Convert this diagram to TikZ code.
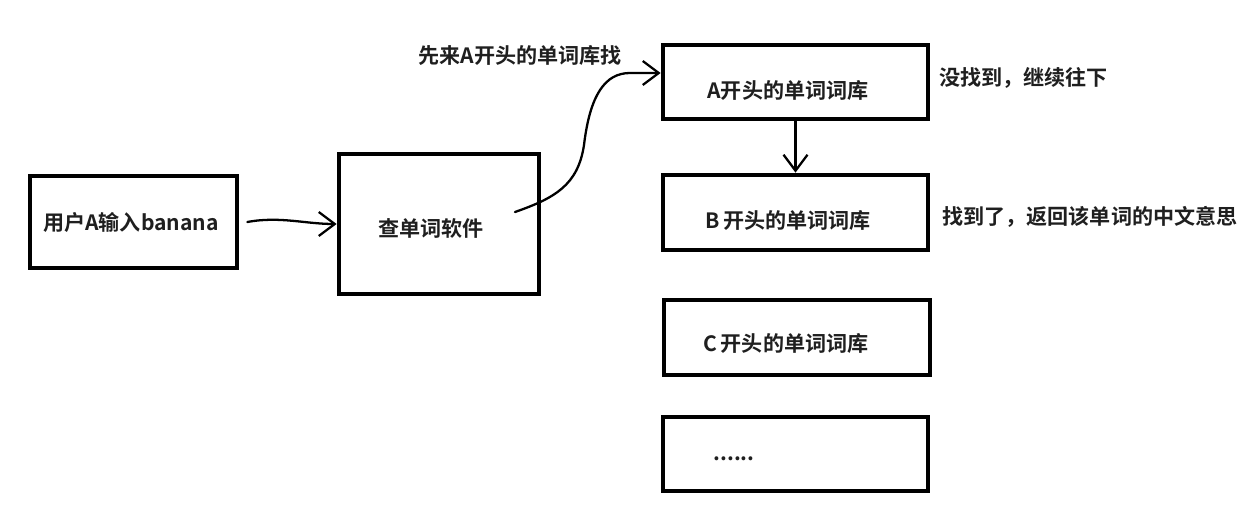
\documentclass[tikz,border=0pt]{standalone}
\usepackage{fontspec}
\setmainfont{Noto Sans CJK SC}[BoldFont={Noto Sans CJK SC Bold}]
\usetikzlibrary{arrows.meta}

\begin{document}
\begin{tikzpicture}[x=0.02cm, y=-0.02cm,
  box/.style={draw, line width=2.7pt, inner sep=0pt},
  lbl/.style={font=\fontsize{12}{14}\selectfont\bfseries, text=black!88, inner sep=0pt},
  hand/.style={line width=1.3pt, line cap=round, line join=round,
    -{Straight Barb[length=3.2mm, width=4.8mm, line width=1.3pt]}}]

\useasboundingbox (0,0) rectangle (1252,510);

% ── Boxes ──
\node[box, minimum width=4.14cm, minimum height=1.84cm] (user) at (133.5, 222) {};
\node[box, minimum width=4.0cm, minimum height=2.8cm] (sw) at (439, 224) {};
\node[box, minimum width=5.3cm, minimum height=1.48cm] (dicta) at (795.5, 82) {};
\node[box, minimum width=5.3cm, minimum height=1.5cm] (dictb) at (795.5, 212.5) {};
\node[box, minimum width=5.32cm, minimum height=1.5cm] (dictc) at (797, 337.5) {};
\node[box, minimum width=5.3cm, minimum height=1.48cm] (dictx) at (795.5, 454) {};

% ── Box texts ──
\node[lbl] (tuser) at (131, 222) {用户A输入banana};
\node[lbl] (tsw) at (431, 228) {查单词软件};
\node[lbl] (ta) at (788, 90) {A开头的单词词库};
\node[lbl] (tb) at (788, 220) {B\,开头的单词词库};
\node[lbl] (tc) at (786, 343) {C\,开头的单词词库};
\node[lbl] (tx) at (734, 459) {......};

% ── Side notes ──
\node[lbl] (nfirst) at (520, 55) {先来A开头的单词库找};
\node[lbl, anchor=west] (nmiss) at (939, 78) {没找到，继续往下};
\node[lbl, anchor=west] (nhit) at (942, 217) {找到了，返回该单词的中文意思};

% ── Arrows (hand drawn) ──
\draw[hand] ([xshift=0.16cm]user.east) .. controls (280, 216) and (305, 224) .. (sw.west);
\coordinate (swout) at (515, 212);
\draw[hand] (swout) .. controls (555, 198) and (578, 185) .. (584, 145)
  .. controls (590, 95) and (605, 73) .. (630, 73) -- ([yshift=0.18cm]dicta.west);
\draw[hand] (dicta.south) -- (dictb.north);

\end{tikzpicture}
\end{document}
